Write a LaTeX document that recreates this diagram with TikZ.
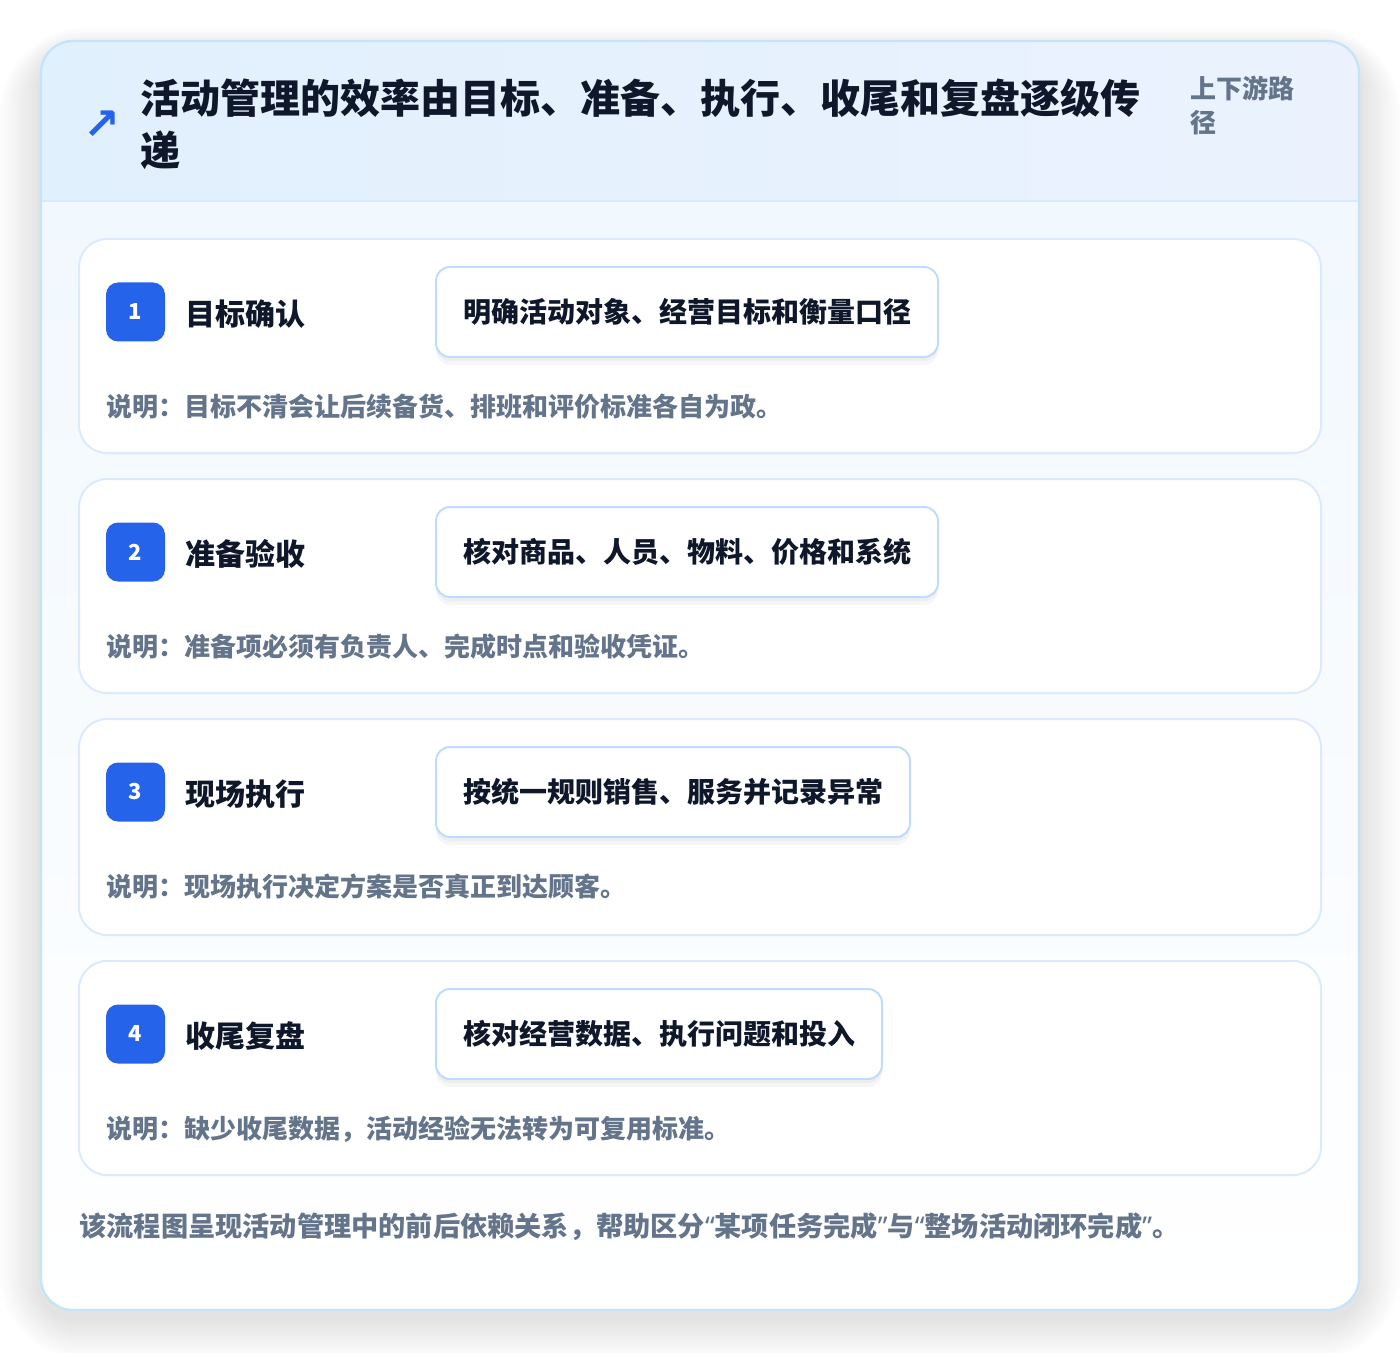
\documentclass[tikz,border=0pt]{standalone}
\usepackage{fontspec}
\setmainfont{Noto Sans CJK SC}
\newfontfamily\symfont{DejaVu Sans}
\newfontfamily\quotefont{Noto Sans}
\usepackage{xcolor}

\definecolor{inkdark}{HTML}{0F172A}
\definecolor{inkgray}{HTML}{64748B}
\definecolor{stepblue}{HTML}{2563EB}
\definecolor{headleft}{HTML}{E1F0FD}
\definecolor{headright}{HTML}{EBF2FE}
\definecolor{outerline}{HTML}{C6E4F7}
\definecolor{headline}{HTML}{D8EAFB}
\definecolor{cardline}{HTML}{DCEAFB}
\definecolor{boxline}{HTML}{BFDBFE}
\definecolor{bodytop}{HTML}{F1F8FE}

\newcommand{\openq}{{\quotefont “}}
\newcommand{\closeq}{{\quotefont ”}}

\begin{document}
\begin{tikzpicture}[x=0.5pt, y=-0.5pt,
	card/.style={draw=cardline, line width=1pt, fill=white, rounded corners=14pt, minimum width=621pt, minimum height=107pt},
	badge/.style={fill=stepblue, rounded corners=6pt, minimum size=29.5pt, inner sep=0pt, text=white, font=\fontsize{11}{13}\selectfont\bfseries},
	steptitle/.style={anchor=west, inner sep=0pt, text=inkdark, font=\fontsize{15}{18}\selectfont\bfseries},
	detail/.style={anchor=west, draw=boxline, line width=1pt, fill=white, rounded corners=7pt, minimum height=45pt, inner xsep=13.5pt, text=inkdark, font=\fontsize{14}{17}\selectfont\bfseries,
		preaction={fill=black, opacity=0.035, transform canvas={yshift=-4pt}},
		preaction={fill=black, opacity=0.03, transform canvas={yshift=-2pt}}},
	note/.style={anchor=west, inner sep=0pt, text=inkgray, font=\fontsize{13}{16}\selectfont\bfseries}]
	
	\useasboundingbox[fill=white] (0,0) rectangle (1400,1352);
	
	% soft shadow of the panel
	\foreach \i in {1,...,14}
		\fill[black, opacity=0.007, rounded corners={16pt+\i*2pt}] (41-\i*3,41-\i*2+14) rectangle (1359+\i*3,1310+\i*3+8);
	
	% outer panel
	\begin{scope}
		\clip[rounded corners=16pt] (41,41) rectangle (1359,1310);
		\fill[white] (41,41) rectangle (1359,1310);
		\fill[top color=bodytop, bottom color=white] (41,201) rectangle (1359,1310);
		\fill[left color=headleft, right color=headright] (41,41) rectangle (1359,201);
		\draw[headline, line width=1pt] (41,201) -- (1359,201);
	\end{scope}
	\draw[outerline, line width=1.2pt, rounded corners=16pt] (41,41) rectangle (1359,1310);
	
	% header
	\node[inner sep=0pt, text=stepblue, font=\fontsize{22}{24}\selectfont\symfont\bfseries] (icon) at (102,125) {↗};
	\node[anchor=west, inner sep=0pt, align=left, text=inkdark, font=\fontsize{20}{26}\selectfont\bfseries] (title) at (140,124) {活动管理的效率由目标、准备、执行、收尾和复盘逐级传\\递};
	\node[anchor=west, inner sep=0pt, align=left, text=inkgray, font=\fontsize{13}{17}\selectfont\bfseries] (path) at (1190,105) {上下游路\\径};
	
	% step 1
	\node[card] (card1) at (700,346) {};
	\node[badge] (b1) at (135.5,312) {1};
	\node[steptitle] (s1) at (185,314) {目标确认};
	\node[detail] (d1) at (435,312) {明确活动对象、经营目标和衡量口径};
	\node[note] (n1) at (106,407) {说明：目标不清会让后续备货、排班和评价标准各自为政。};
	
	% step 2
	\node[card] (card2) at (700,586) {};
	\node[badge] (b2) at (135.5,552) {2};
	\node[steptitle] (s2) at (185,554) {准备验收};
	\node[detail] (d2) at (435,552) {核对商品、人员、物料、价格和系统};
	\node[note] (n2) at (106,647) {说明：准备项必须有负责人、完成时点和验收凭证。};
	
	% step 3
	\node[card, minimum height=108pt] (card3) at (700,827) {};
	\node[badge] (b3) at (135.5,792) {3};
	\node[steptitle] (s3) at (185,794) {现场执行};
	\node[detail] (d3) at (435,792) {按统一规则销售、服务并记录异常};
	\node[note] (n3) at (106,887) {说明：现场执行决定方案是否真正到达顾客。};
	
	% step 4
	\node[card] (card4) at (700,1068) {};
	\node[badge] (b4) at (135.5,1034) {4};
	\node[steptitle] (s4) at (185,1036) {收尾复盘};
	\node[detail] (d4) at (435,1034) {核对经营数据、执行问题和投入};
	\node[note] (n4) at (106,1129) {说明：缺少收尾数据，活动经验无法转为可复用标准。};
	
	% footer
	\node[note, font=\fontsize{13.6}{16}\selectfont\bfseries] (summary) at (79,1227) {该流程图呈现活动管理中的前后依赖关系，帮助区分\openq 某项任务完成\closeq 与\openq 整场活动闭环完成\closeq 。};
\end{tikzpicture}
\end{document}
